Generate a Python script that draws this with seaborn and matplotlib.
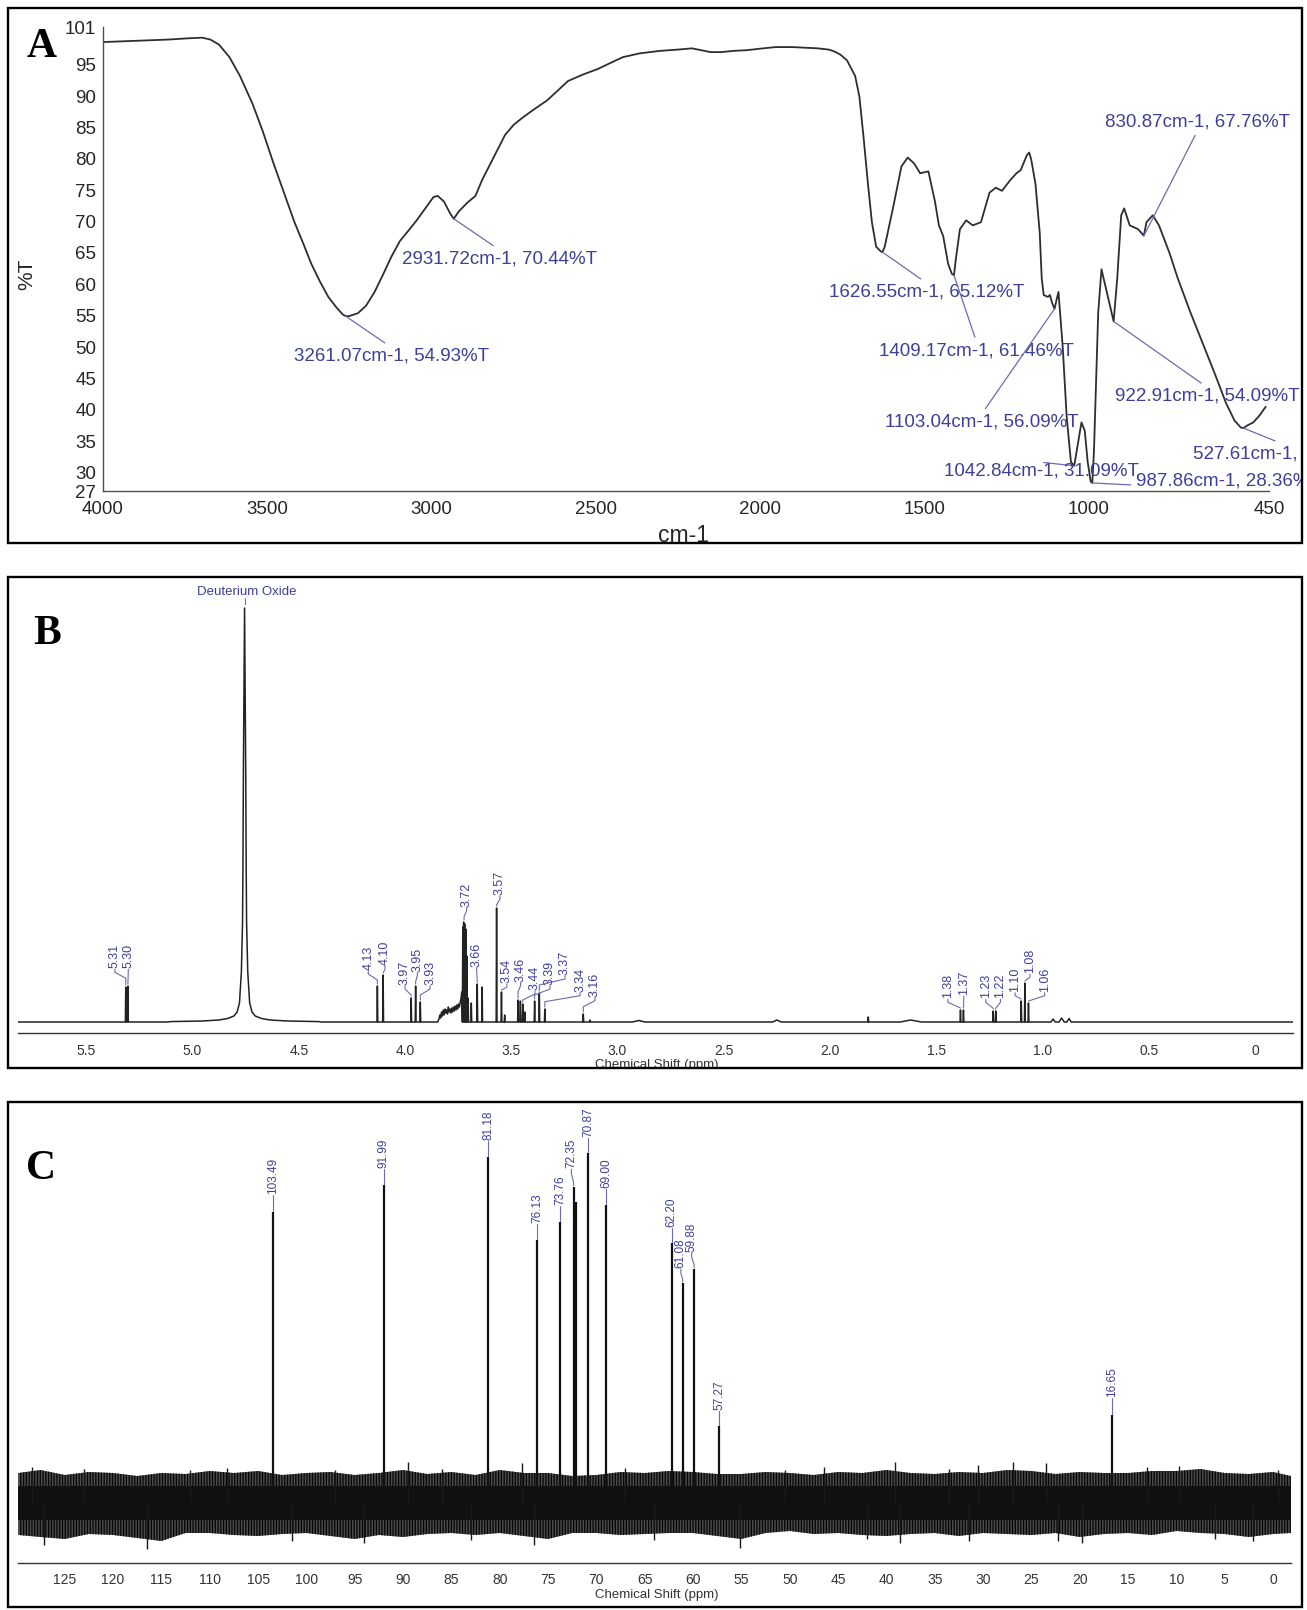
import numpy as np
import pandas as pd
import matplotlib
matplotlib.use("Agg")
import matplotlib.pyplot as plt
import seaborn as sns
from matplotlib.patches import Rectangle
from matplotlib.transforms import Bbox, TransformedBbox
from matplotlib.ticker import FixedLocator, FixedFormatter

# ======================= DATA =======================
# ---- Panel A : FT-IR spectrum ----
ir_wavenumber = [4000, 3900, 3801, 3740, 3698, 3673, 3647, 3615, 3583, 3545, 3513, 3481, 3449, 3417,
                 3391, 3366, 3340, 3314, 3289, 3270, 3261, 3250, 3224, 3199, 3173, 3147, 3122, 3096,
                 3071, 3045, 3019, 2994, 2981, 2962, 2943, 2932, 2917, 2891, 2866, 2846, 2814, 2776,
                 2750, 2724, 2690, 2648, 2615, 2584, 2540, 2494, 2450, 2417, 2366, 2304, 2250, 2207,
                 2150, 2118, 2080, 2041, 1990, 1952, 1900, 1824, 1790, 1773, 1755, 1735, 1710,
                 1697, 1684, 1671, 1659, 1646, 1633, 1627, 1620, 1595, 1569, 1550, 1531, 1512, 1487,
                 1467, 1455, 1442, 1427, 1416, 1409, 1404, 1391, 1372, 1352, 1327, 1301, 1282, 1263,
                 1238, 1219, 1206, 1187, 1180, 1174, 1161, 1148, 1142, 1136, 1123, 1117, 1110, 1103,
                 1097, 1091, 1078, 1066, 1053, 1043, 1034, 1021, 1011, 1002, 993, 988, 983, 970,
                 960, 944, 923, 912, 900, 891, 874, 849, 831, 823, 804, 785, 753, 728, 689, 651,
                 613, 581, 555, 536, 528, 517, 498, 479, 460]
ir_transmittance = [98.6, 98.8, 99.0, 99.2, 99.3, 99.0, 98.2, 96.2, 93.2, 88.8, 84.3, 79.3, 74.6, 69.9,
                    66.6, 63.3, 60.5, 58.0, 56.3, 55.2, 54.93, 54.95, 55.4, 56.6, 58.8, 61.6, 64.4, 66.9,
                    68.5, 70.2, 72.1, 73.9, 74.1, 73.2, 71.3, 70.44, 71.6, 73.0, 74.1, 76.6, 79.9, 83.8,
                    85.4, 86.5, 87.8, 89.3, 90.9, 92.4, 93.4, 94.3, 95.4, 96.2, 96.8, 97.2, 97.4, 97.6,
                    97.0, 97.0, 97.2, 97.3, 97.6, 97.8, 97.8, 97.6, 97.4, 97.1, 96.6, 95.7, 93.2,
                    89.9, 83.2, 76.0, 69.9, 66.0, 65.3, 65.12, 66.0, 72.1, 78.8, 80.2, 79.3, 77.7, 78.0,
                    73.2, 69.4, 67.7, 63.3, 61.7, 61.46, 63.8, 68.8, 70.2, 69.4, 69.9, 74.6, 75.4, 74.9,
                    76.6, 77.7, 78.2, 80.6, 81.0, 79.9, 76.0, 68.2, 61.0, 58.3, 58.0, 58.3, 57.0, 56.09,
                    57.5, 58.8, 50.0, 38.9, 31.7, 31.09, 33.9, 38.0, 36.7, 31.7, 28.6, 28.36, 33.3, 55.5,
                    62.4, 58.8, 54.09, 61.0, 71.0, 72.1, 69.4, 68.8, 67.76, 69.9, 71.0, 69.4, 65.0, 61.0,
                    55.5, 50.5, 45.5, 41.1, 38.3, 37.2, 37.1, 37.5, 38.0, 39.1, 40.5]
ir_peak_wn = [3261.07, 2931.72, 1626.55, 1409.17, 1103.04, 1042.84, 987.86, 922.91, 830.87, 527.61]
ir_peak_T = [54.93, 70.44, 65.12, 61.46, 56.09, 31.09, 28.36, 54.09, 67.76, 37.10]
ir_label_text = ["3261.07cm-1, 54.93%T", "2931.72cm-1, 70.44%T", "1626.55cm-1, 65.12%T",
                 "1409.17cm-1, 61.46%T", "1103.04cm-1, 56.09%T", "1042.84cm-1, 31.09%T",
                 "987.86cm-1, 28.36%T", "922.91cm-1, 54.09%T", "830.87cm-1, 67.76%T",
                 "527.61cm-1, 37.10%T"]
ir_label_wn = [3122, 2792, 1491, 1340, 1324, 1142, 573, 637, 667, 401]
ir_label_T = [48.6, 64.1, 58.8, 49.4, 38.05, 30.3, 28.6, 42.2, 85.9, 33.05]
ir_label_from_top = [True, True, True, True, True, True, False, True, False, True]
ir_xticks = [4000, 3500, 3000, 2500, 2000, 1500, 1000, 500, 450]
ir_xticklabels = ["4000", "3500", "3000", "2500", "2000", "1500", "1000", "", "450"]
ir_yticks = [27, 30, 35, 40, 45, 50, 55, 60, 65, 70, 75, 80, 85, 90, 95, 101]

# ---- Panel B : 1H NMR (heights in px above baseline) ----
h1_peak_ppm = [5.314, 5.304, 4.130, 4.103, 3.971, 3.950, 3.928, 3.728, 3.724, 3.719, 3.714, 3.709,
               3.703, 3.688, 3.660, 3.637, 3.569, 3.546, 3.531, 3.468, 3.457, 3.446, 3.436, 3.390,
               3.368, 3.342, 3.161, 3.130, 1.820, 1.386, 1.372, 1.232, 1.220, 1.100, 1.083, 1.066]
h1_peak_h = [35, 36, 36, 47, 24, 36, 20, 95, 100, 98, 93, 66, 24, 19, 38, 35, 114, 30, 7, 22, 21,
             18, 10, 21, 29, 13, 8, 2, 5, 12, 12, 11, 11, 21, 39, 19]
h1_bump_ppm = [2.90, 2.25, 1.62, 0.95, 0.91, 0.875]
h1_bump_h = [1.5, 2.0, 2.0, 3.0, 4.0, 3.5]
h1_bump_hw = [0.03, 0.02, 0.05, 0.01, 0.012, 0.01]
h1_hump_ppm = [3.846, 3.840, 3.836, 3.832, 3.828, 3.824, 3.820, 3.816, 3.812, 3.808, 3.804, 3.800,
               3.796, 3.792, 3.788, 3.784, 3.780, 3.776, 3.772, 3.768, 3.764, 3.760, 3.756, 3.752,
               3.748, 3.744, 3.740, 3.736, 3.733]
h1_hump_h = [0, 3, 7, 4, 10, 6, 12, 7, 13, 9, 12, 8, 15, 10, 13, 9, 14, 10, 15, 11, 16, 12, 17, 13,
             18, 15, 20, 24, 30]
d2o_ppm = 4.755
d2o_offset = [0, 0.003, 0.0055, 0.0075, 0.0095, 0.015, 0.024, 0.035, 0.05, 0.08, 0.12, 0.2, 0.35]
d2o_h = [414, 330, 250, 160, 100, 50, 19, 10, 6, 3.5, 2, 1, 0.4]
h1_label_text = ["5.31", "5.30", "4.13", "4.10", "3.97", "3.95", "3.93", "3.72", "3.66", "3.57",
                 "3.54", "3.46", "3.44", "3.39", "3.37", "3.34", "3.16", "1.38", "1.37", "1.23",
                 "1.22", "1.10", "1.08", "1.06"]
h1_label_x = [5.365, 5.302, 4.173, 4.094, 4.000, 3.942, 3.882, 3.710, 3.663, 3.553, 3.521, 3.456,
              3.388, 3.318, 3.247, 3.176, 3.106, 1.445, 1.370, 1.267, 1.198, 1.129, 1.059, 0.990]
h1_label_bottom = [53.7, 53.7, 52, 57, 37, 50.3, 37, 115.3, 55.3, 127, 38.7, 40.3, 32, 37, 47, 30.3,
                   25.3, 23.7, 27, 23.7, 23.7, 30.3, 48.7, 30.3]
h1_label_peak_ppm = [5.314, 5.304, 4.130, 4.103, 3.971, 3.950, 3.928, 3.722, 3.660, 3.569, 3.546,
                     3.468, 3.446, 3.390, 3.368, 3.342, 3.161, 1.386, 1.372, 1.232, 1.220, 1.100,
                     1.083, 1.066]
h1_label_peak_h = [35, 36, 36, 47, 24, 36, 20, 100, 38, 114, 30, 22, 18, 21, 29, 13, 8, 12, 12, 11,
                   11, 21, 39, 19]
h1_xticks = [5.5, 5.0, 4.5, 4.0, 3.5, 3.0, 2.5, 2.0, 1.5, 1.0, 0.5, 0.0]
h1_xticklabels = ["5.5", "5.0", "4.5", "4.0", "3.5", "3.0", "2.5", "2.0", "1.5", "1.0", "0.5", "0"]

# ---- Panel C : 13C NMR (heights in px above noise centre) ----
c_peak_ppm = [103.49, 91.99, 81.18, 76.13, 73.76, 72.35, 72.15, 70.87, 69.00, 62.20, 61.08, 59.88,
              57.27, 16.65]
c_peak_h = [291, 318, 346, 263, 281, 316, 301, 350, 298, 260, 220, 234, 77, 88]
c_label_text = ["103.49", "91.99", "81.18", "76.13", "73.76", "72.35", "70.87", "69.00", "62.20",
                "61.08", "59.88", "57.27", "16.65"]
c_label_peak_ppm = [103.49, 91.99, 81.18, 76.13, 73.76, 72.35, 70.87, 69.00, 62.20, 61.08, 59.88,
                    57.27, 16.65]
c_label_peak_h = [291, 318, 346, 263, 281, 316, 350, 298, 260, 220, 234, 77, 88]
c_label_x = [103.49, 91.99, 81.18, 76.13, 73.76, 72.59, 70.87, 69.00, 62.20, 61.26, 60.15, 57.27,
             16.65]
c_label_bottom = [308.7, 334.7, 363, 279.7, 298, 334.7, 366.3, 314.7, 276.3, 234.7, 251.3, 93, 106]
noise_ppm = [129.8, 127.5, 125, 122.5, 120, 117.5, 115, 112.5, 110, 107.5, 105, 102.5, 100, 97.5,
             95, 92.5, 90, 87.5, 85, 82.5, 80, 77.5, 75, 72.5, 70, 67.5, 65, 62.5, 60, 57.5, 55,
             52.5, 50, 47.5, 45, 42.5, 40, 37.5, 35, 32.5, 30, 27.5, 25, 22.5, 20, 17.5, 15, 12.5,
             10, 7.5, 5, 2.5, 0, -1.85]
noise_up = [30, 33, 28, 31, 30, 27, 30, 29, 32, 30, 32, 28, 30, 31, 28, 30, 33, 29, 31, 28, 33, 30,
            30, 27, 28, 31, 30, 32, 31, 29, 29, 31, 30, 28, 31, 30, 33, 30, 29, 31, 30, 33, 32, 29,
            31, 30, 30, 32, 32, 34, 30, 29, 31, 27]
noise_low = [-32, -34, -36, -31, -32, -35, -38, -30, -30, -32, -33, -31, -30, -33, -36, -32, -34,
             -31, -30, -32, -30, -33, -36, -30, -30, -32, -31, -30, -30, -33, -36, -30, -28, -31,
             -30, -32, -33, -31, -30, -33, -30, -31, -32, -30, -34, -31, -30, -32, -28, -30, -31,
             -34, -31, -30]
noise_spike_ppm = [128.4, 127.1, 123.0, 116.5, 112.0, 108.2, 101.5, 97.0, 94.0, 89.5, 86.0, 83.0,
                   77.7, 76.5, 67.0, 64.0, 55.1, 50.5, 46.5, 42.0, 39.1, 38.6, 33.5, 31.5, 30.5,
                   26.9, 23.5, 22.2, 19.8, 13.0, 9.7, 6.0, 2.1, -0.5]
noise_spike_h = [36, -42, 34, -46, 33, 35, -38, 33, -40, 41, 34, -37, 40, -42, 35, -37, -45, 33, 36,
                 -36, 41, -40, 34, -38, 38, 41, 40, -38, -40, 36, 37, -36, -38, 33]
c_xticks = list(range(125, -1, -5))
c_xticklabels = [str(v) for v in c_xticks]

# ======================= FIGURE =======================
W, H = 1307, 1610
sns.set_theme(style="white")
plt.rcParams['font.family'] = ['Liberation Sans', 'DejaVu Sans']
plt.rcParams['hatch.linewidth'] = 0.9

fig = plt.figure(figsize=(W / 100, H / 100), dpi=100)
fig.patch.set_facecolor('white')


def rect(left, top, right, bottom):
    return [left / W, 1 - bottom / H, (right - left) / W, (bottom - top) / H]


def frame_bbox(left, top, right, bottom):
    return TransformedBbox(Bbox.from_extents(left / W, 1 - bottom / H, right / W, 1 - top / H),
                           fig.transFigure)


def clip_to(artist, bb):
    artist.set_clip_path(None)
    artist.set_clip_box(bb)
    artist.set_clip_on(True)


BLUE = '#3f3f98'
LEAD = '#6b6bb0'
frames = [(8, 8, 1302, 543), (8, 577, 1302, 1068), (8, 1102, 1302, 1607)]
fbA, fbB, fbC = [frame_bbox(*f) for f in frames]
for (l, t, r, b) in frames:
    fig.add_artist(Rectangle((l / W, 1 - b / H), (r - l) / W, (b - t) / H, transform=fig.transFigure,
                             fill=False, lw=1.7, ec='black', zorder=10))

letters = [("A", 42, 47), ("B", 47, 634), ("C", 41, 1169)]
for s, x, y in letters:
    fig.text(x / W, 1 - y / H, s, family=['Liberation Serif', 'DejaVu Serif'], fontweight='bold',
             fontsize=30, ha='center', va='center', color='black')

# ---------------- Panel A ----------------
axA = fig.add_axes(rect(103, 27, 1269, 491.5))
dfA = pd.DataFrame({'wn': ir_wavenumber, 'T': ir_transmittance})
sns.lineplot(data=dfA, x='wn', y='T', ax=axA, sort=False, estimator=None, color='#2e2e2e', lw=1.3)
axA.set_xlim(4000, 450)
axA.set_ylim(27, 101)
axA.set_facecolor('none')
for sp in ['top', 'right']:
    axA.spines[sp].set_visible(False)
for sp in ['left', 'bottom']:
    axA.spines[sp].set_color('#505050')
    axA.spines[sp].set_linewidth(1.0)
axA.xaxis.set_major_locator(FixedLocator(ir_xticks))
axA.xaxis.set_major_formatter(FixedFormatter(ir_xticklabels))
axA.yaxis.set_major_locator(FixedLocator(ir_yticks))
axA.yaxis.set_major_formatter(FixedFormatter([str(v) for v in ir_yticks]))
axA.tick_params(axis='both', direction='out', length=4, width=1, color='#505050',
                labelsize=13.5, labelcolor='#262626')
axA.tick_params(axis='x', pad=2.5)
axA.tick_params(axis='y', pad=1)
axA.set_xlabel('')
axA.set_ylabel('')
fig.text(26.5 / W, 1 - 274 / H, '%T', rotation=90, fontsize=15, ha='center', va='center',
         color='#262626')
tcm = fig.text(683 / W, 1 - 535 / H, 'cm-1', fontsize=16.5, ha='center', va='center',
               color='#262626')
clip_to(tcm, fbA)

for txt, pw, pt, lx, ly, top in zip(ir_label_text, ir_peak_wn, ir_peak_T, ir_label_wn, ir_label_T,
                                    ir_label_from_top):
    ann = axA.annotate(txt, xy=(pw, pt), xytext=(lx, ly), textcoords='data', ha='center',
                       va='center', fontsize=13.5, color=BLUE, annotation_clip=False,
                       arrowprops=dict(arrowstyle='-', color=LEAD, lw=0.9, shrinkA=1.5, shrinkB=0,
                                       relpos=(0.5, 1.0 if top else 0.0)))
    clip_to(ann, fbA)

# ---------------- Panel B ----------------
B_X0, B_X1 = 5.82, -0.18
axB = fig.add_axes(rect(1255 - 212.5 * B_X0, 580, 1255 - 212.5 * B_X1, 1032.5))
SPIKE_HW = 0.002
features = []
for p, h in zip(h1_peak_ppm, h1_peak_h):
    features.append([(p + SPIKE_HW, 0.0), (p, h), (p - SPIKE_HW, 0.0)])
for p, h, w in zip(h1_bump_ppm, h1_bump_h, h1_bump_hw):
    features.append([(p + w, 0.0), (p, h), (p - w, 0.0)])
features.append(list(zip(h1_hump_ppm, h1_hump_h)))
d2o = [(d2o_ppm + o, v) for o, v in zip(d2o_offset[::-1], d2o_h[::-1])]
d2o += [(d2o_ppm - o, v) for o, v in zip(d2o_offset[1:], d2o_h[1:])]
features.append([(d2o_ppm + 0.36, 0.0)] + d2o + [(d2o_ppm - 0.36, 0.0)])
features.sort(key=lambda f: -f[0][0])
verts = [(B_X0, 0.0)]
for f in features:
    verts.extend(f)
verts.append((B_X1, 0.0))
dfB = pd.DataFrame(verts, columns=['ppm', 'h'])
sns.lineplot(data=dfB, x='ppm', y='h', ax=axB, sort=False, estimator=None, color='#222222', lw=1.1)
axB.set_xlim(B_X0, B_X1)
axB.set_ylim(-10.5, 442)
axB.set_facecolor('none')
for sp in ['top', 'right', 'left']:
    axB.spines[sp].set_visible(False)
axB.spines['bottom'].set_color('#333333')
axB.spines['bottom'].set_linewidth(1.0)
axB.set_yticks([])
axB.xaxis.set_major_locator(FixedLocator(h1_xticks))
axB.xaxis.set_major_formatter(FixedFormatter(h1_xticklabels))
axB.xaxis.set_minor_locator(FixedLocator(np.round(np.arange(-0.1, 5.85, 0.1), 2)))
axB.tick_params(axis='x', which='major', direction='out', length=7, width=1, color='#333333',
                labelsize=10, labelcolor='#333333', pad=1.2)
axB.tick_params(axis='x', which='minor', direction='out', length=4, width=0.9, color='#333333')
axB.set_xlabel('')
axB.set_ylabel('')

SX_B = 212.5
for s, lx, lb, px, ph in zip(h1_label_text, h1_label_x, h1_label_bottom, h1_label_peak_ppm,
                             h1_label_peak_h):
    t = axB.text(lx, lb, s, rotation=90, ha='center', va='bottom', fontsize=9, color=BLUE)
    clip_to(t, fbB)
    top = lb - 1.0
    end = ph + 2.0
    if abs(lx - px) * SX_B < 1.5:
        xs, ys = [lx, px], [top, end]
    else:
        k1 = top - 3.0
        k2 = max(end, k1 - 6.0)
        xs, ys = [lx, lx, px, px], [top, k1, k2, end]
    axB.plot(xs, ys, color=LEAD, lw=0.8)

axB.text(4.745, 430.3, 'Deuterium Oxide', ha='center', va='center', fontsize=9.5, color=BLUE)
axB.plot([d2o_ppm, d2o_ppm], [417.5, 423.5], color=LEAD, lw=0.8)
tB = fig.text(657 / W, 1 - 1065 / H, 'Chemical Shift (ppm)', fontsize=9.5, ha='center', va='center',
              color='#333333')
clip_to(tB, fbB)

# ---------------- Panel C ----------------
C_X0, C_X1 = 129.8, -1.85
SX_C = 9.666
axC = fig.add_axes(rect(1273 - SX_C * C_X0, 1106, 1273 - SX_C * C_X1, 1563))
dfN = pd.DataFrame({'ppm': noise_ppm, 'up': noise_up, 'low': noise_low})
axC.fill_between(dfN['ppm'], dfN['low'], dfN['up'], facecolor='#4a4a4a', edgecolor='#050505',
                 hatch='||||||', lw=0)
axC.fill_between(dfN['ppm'], -17, 17, facecolor='#101010', edgecolor='#000000', lw=0)
axC.vlines(noise_spike_ppm, 0, noise_spike_h, color='#1a1a1a', lw=1.0)
axC.vlines(c_peak_ppm, 0, c_peak_h, color='#111111', lw=1.6)
axC.set_xlim(C_X0, C_X1)
axC.set_ylim(-60, 397)
axC.set_facecolor('none')
for sp in ['top', 'right', 'left']:
    axC.spines[sp].set_visible(False)
axC.spines['bottom'].set_color('#333333')
axC.spines['bottom'].set_linewidth(1.0)
axC.set_yticks([])
axC.xaxis.set_major_locator(FixedLocator(c_xticks))
axC.xaxis.set_major_formatter(FixedFormatter(c_xticklabels))
axC.xaxis.set_minor_locator(FixedLocator(np.arange(-1.5, 130, 0.5)))
axC.tick_params(axis='x', which='major', direction='out', length=6.5, width=1, color='#333333',
                labelsize=10, labelcolor='#333333', pad=1.0)
axC.tick_params(axis='x', which='minor', direction='out', length=3.5, width=0.8, color='#333333')

for s, lx, lb, px, ph in zip(c_label_text, c_label_x, c_label_bottom, c_label_peak_ppm,
                             c_label_peak_h):
    t = axC.text(lx, lb, s, rotation=90, ha='center', va='bottom', fontsize=8.5, color=BLUE)
    clip_to(t, fbC)
    if abs(lx - px) * SX_C < 1.5:
        xs, ys = [px, px], [ph + 1.0, lb - 1.0]
    else:
        xs, ys = [px, px, lx, lx], [ph + 1.0, ph + 4.0, lb - 5.0, lb - 1.0]
    axC.plot(xs, ys, color=LEAD, lw=0.8)

tC = fig.text(657 / W, 1 - 1595 / H, 'Chemical Shift (ppm)', fontsize=9.5, ha='center',
              va='center', color='#333333')
clip_to(tC, fbC)

fig.savefig('out.png', dpi=100, facecolor='white')
